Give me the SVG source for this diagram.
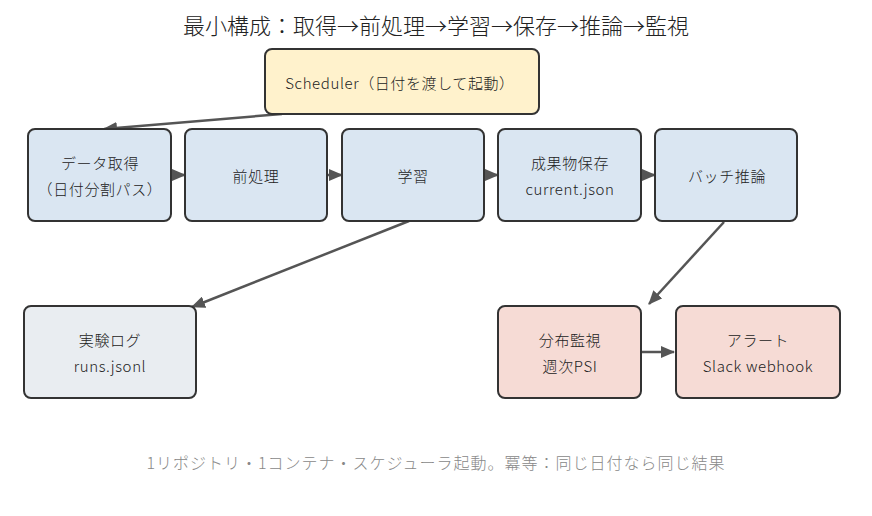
<svg xmlns="http://www.w3.org/2000/svg" width="872" height="516" viewBox="0 0 872 516">
<style>
text{font-family:"Noto Sans CJK JP","Noto Sans",sans-serif;font-weight:300;fill:#222;text-anchor:middle;dominant-baseline:central}
.t{font-size:22px}
.n{font-size:15px;letter-spacing:0.6px}
.f{font-size:16px;letter-spacing:1px;fill:#888}
.box{stroke:#333;stroke-width:2}
.blue{fill:#dae6f2}
.gray{fill:#e9edf1}
.pink{fill:#f6dbd5}
.yel{fill:#fff2cc}
.c{stroke:#555;stroke-width:2.5;fill:none;marker-end:url(#ah)}
</style>
<defs>
<marker id="ah" markerUnits="userSpaceOnUse" markerWidth="14" markerHeight="12" refX="13" refY="6" orient="auto">
<path d="M0,0 L14,6 L0,12 z" fill="#555"/>
</marker>
</defs>
<rect width="872" height="516" fill="#fff"/>
<text class="t" x="436" y="24">最小構成：取得→前処理→学習→保存→推論→監視</text>
<g id="connectors">
<line class="c" x1="282" y1="114" x2="104" y2="129"/>
<line class="c" x1="171" y1="175" x2="185" y2="175"/>
<line class="c" x1="327" y1="175" x2="342" y2="175"/>
<line class="c" x1="484" y1="175" x2="498" y2="175"/>
<line class="c" x1="641" y1="175" x2="655" y2="175"/>
<line class="c" x1="409" y1="221" x2="192" y2="307"/>
<line class="c" x1="724" y1="222" x2="649" y2="304"/>
<line class="c" x1="641" y1="352" x2="674" y2="352"/>
</g>
<g id="scheduler"><rect class="box yel" x="265" y="49" width="274" height="65" rx="7"/><text class="n" x="400" y="82">Scheduler（日付を渡して起動）</text></g>
<g id="fetch"><rect class="box blue" x="28" y="129" width="143" height="92" rx="7"/><text class="n" x="100" y="162">データ取得</text><text class="n" x="100" y="188">（日付分割パス）</text></g>
<g id="preprocess"><rect class="box blue" x="185" y="129" width="142" height="92" rx="7"/><text class="n" x="256" y="175">前処理</text></g>
<g id="train"><rect class="box blue" x="342" y="129" width="142" height="92" rx="7"/><text class="n" x="413" y="175">学習</text></g>
<g id="save"><rect class="box blue" x="498" y="129" width="143" height="92" rx="7"/><text class="n" x="570" y="162">成果物保存</text><text class="n" x="570" y="188">current.json</text></g>
<g id="infer"><rect class="box blue" x="655" y="129" width="142" height="92" rx="7"/><text class="n" x="727" y="175">バッチ推論</text></g>
<g id="log"><rect class="box gray" x="24" y="306" width="172" height="92" rx="7"/><text class="n" x="110" y="339">実験ログ</text><text class="n" x="110" y="365">runs.jsonl</text></g>
<g id="monitor"><rect class="box pink" x="498" y="306" width="143" height="92" rx="7"/><text class="n" x="570" y="339">分布監視</text><text class="n" x="570" y="365">週次PSI</text></g>
<g id="alert"><rect class="box pink" x="676" y="306" width="164" height="92" rx="7"/><text class="n" x="758" y="339">アラート</text><text class="n" x="758" y="365">Slack webhook</text></g>
<text class="f" x="436" y="462">1リポジトリ・1コンテナ・スケジューラ起動。冪等：同じ日付なら同じ結果</text>
</svg>
